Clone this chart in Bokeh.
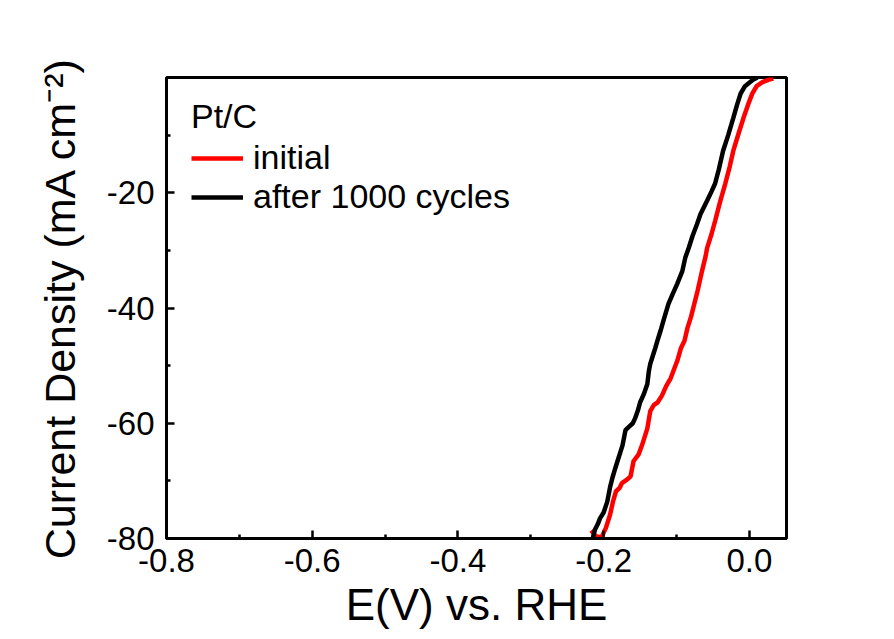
from bokeh.plotting import figure
from bokeh.models import Legend, Range1d, FixedTicker, CustomJSTickFormatter
from bokeh.embed import file_html
from bokeh.resources import INLINE

# ---- data ----
initial_x = [-0.217, -0.211, -0.203, -0.197, -0.191, -0.187, -0.183, -0.178, -0.175, -0.168,
             -0.163, -0.159, -0.152, -0.147, -0.140, -0.136, -0.131, -0.126, -0.120, -0.114,
             -0.108, -0.103, -0.099, -0.094, -0.089, -0.085, -0.080, -0.077, -0.074, -0.071,
             -0.065, -0.060, -0.058, -0.052, -0.047, -0.040, -0.033, -0.027, -0.022, -0.015,
             -0.008, -0.002, 0.004, 0.010, 0.018, 0.026, 0.033]
initial_y = [-78.6, -79.6, -79.8, -78.2, -75.8, -73.5, -71.8, -71.2, -70.4, -69.8,
             -69.2, -66.6, -65.4, -63.7, -60.9, -57.9, -56.8, -56.4, -55.2, -53.5,
             -52.2, -50.5, -49.2, -47.0, -45.7, -43.5, -41.5, -40.0, -38.5, -37.0,
             -33.6, -31.0, -29.6, -27.2, -24.9, -21.5, -18.4, -15.5, -12.7, -9.8,
             -7.0, -4.8, -2.8, -1.5, -0.8, -0.4, -0.2]

cycled_x = [-0.215, -0.212, -0.208, -0.205, -0.200, -0.195, -0.191, -0.188, -0.184, -0.181,
            -0.177, -0.174, -0.172, -0.170, -0.165, -0.160, -0.157, -0.153, -0.150, -0.145,
            -0.140, -0.138, -0.136, -0.133, -0.129, -0.125, -0.122, -0.117, -0.111, -0.105,
            -0.099, -0.092, -0.088, -0.083, -0.078, -0.072, -0.067, -0.058, -0.052, -0.047,
            -0.042, -0.036, -0.029, -0.022, -0.017, -0.012, -0.006, -0.001, 0.005, 0.011]
cycled_y = [-80.0, -78.5, -77.5, -76.5, -75.5, -73.6, -71.0, -69.5, -67.8, -66.6,
            -65.0, -63.8, -62.5, -61.2, -60.6, -60.0, -59.2, -57.8, -56.4, -55.0,
            -53.2, -51.0, -49.7, -48.5, -46.9, -45.2, -44.0, -41.8, -39.3, -37.5,
            -35.8, -33.6, -31.3, -29.5, -27.5, -25.5, -23.7, -21.4, -19.8, -18.4,
            -16.0, -12.7, -10.0, -7.0, -4.8, -2.8, -1.5, -1.0, -0.4, 0.0]

x_major = [-0.8, -0.6, -0.4, -0.2, 0.0]
x_minor = [-0.7, -0.5, -0.3, -0.1]
y_major = [-80, -60, -40, -20]
y_minor = [-70, -50, -30, -10]

legend_title = "Pt/C"
series_labels = ["initial", "after 1000 cycles"]
series_colors = ["#ff0000", "#000000"]

FONT = "Liberation Sans"

p = figure(width=894, height=639, output_backend="svg", toolbar_location=None,
           x_range=Range1d(-0.8, 0.051), y_range=Range1d(-80, 0),
           min_border_left=166, min_border_right=108, min_border_top=77,
           min_border_bottom=101)
p.background_fill_color = "white"
p.border_fill_color = "white"
p.grid.visible = False
p.outline_line_color = "black"
p.outline_line_width = 3

r1 = p.line(initial_x, initial_y, line_color=series_colors[0], line_width=4.5)
r2 = p.line(cycled_x, cycled_y, line_color=series_colors[1], line_width=4.5)

for ax in (p.xaxis[0], p.yaxis[0]):
    ax.axis_line_width = 3
    ax.axis_line_color = "black"
    ax.major_tick_in = 8
    ax.major_tick_out = 0
    ax.minor_tick_in = 4
    ax.minor_tick_out = 0
    ax.major_tick_line_width = 2.5
    ax.minor_tick_line_width = 2.5
    ax.major_label_text_font = FONT
    ax.major_label_text_font_size = "33px"
    ax.major_label_text_color = "black"
    ax.axis_label_text_font = FONT
    ax.axis_label_text_font_size = "43px"
    ax.axis_label_text_font_style = "normal"
    ax.axis_label_text_color = "black"

p.xaxis.axis_label_text_font_size = "44px"
p.xaxis.ticker = FixedTicker(ticks=x_major, minor_ticks=x_minor)
p.yaxis.ticker = FixedTicker(ticks=y_major, minor_ticks=y_minor)
p.xaxis.formatter = CustomJSTickFormatter(code="return tick.toFixed(1);")
p.yaxis.formatter = CustomJSTickFormatter(code="return tick.toFixed(0);")
p.xaxis.major_label_standoff = 10
p.yaxis.major_label_standoff = 12
p.xaxis.axis_label = "E(V) vs. RHE"
p.yaxis.axis_label = "Current Density (mA cm\u207b\u00b2)"
p.xaxis.axis_label_standoff = 5
p.yaxis.axis_label_standoff = 20

legend = Legend(items=[(series_labels[0], [r1]), (series_labels[1], [r2])],
                title=legend_title, location=(25, 322))
legend.title_text_font = FONT
legend.title_text_font_size = "34px"
legend.title_text_font_style = "normal"
legend.title_text_color = "black"
legend.title_standoff = 2
legend.label_text_font = FONT
legend.label_text_font_size = "34px"
legend.label_text_color = "black"
legend.glyph_width = 52
legend.glyph_height = 20
legend.label_standoff = 10
legend.spacing = 0
legend.padding = 0
legend.margin = 0
legend.border_line_alpha = 0
legend.background_fill_alpha = 0
p.add_layout(legend)

open("out.html", "w").write(file_html(p, INLINE))
